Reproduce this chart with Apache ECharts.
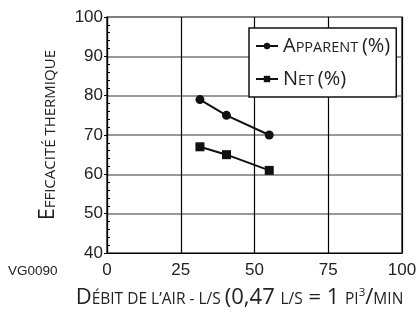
<!DOCTYPE html>
<html><head><meta charset="utf-8">
<script src="https://cdn.jsdelivr.net/npm/echarts@6/dist/echarts.min.js"></script>
<style>html,body{margin:0;padding:0;background:#fff}#c{width:418px;height:312px}</style>
</head><body><div id="c"></div>
<script>
var airflow = [31.5, 40.5, 55];
var apparent = [79, 75, 70];
var netEff = [67, 65, 61];
var xTicks = [0, 25, 50, 75, 100];
var yTicks = [40, 50, 60, 70, 80, 90, 100];
var seriesNames = ['Apparent (%)', 'Net (%)'];

var F = '"Open Sans", sans-serif';
var LF = '"Liberation Sans", Arial, sans-serif';
var chart = echarts.init(document.getElementById('c'));
function pairs(xs, ys){ return xs.map(function(x,i){return [x, ys[i]];}); }
var legendLabels = {
  'Apparent (%)': '{c|A}{s|PPARENT }{c|(%)}',
  'Net (%)': '{c|N}{s|ET }{c|(%)}'
};
function rich(big, small){
  return {
    c: {fontFamily: F, fontSize: big, color: '#222', verticalAlign: 'bottom'},
    s: {fontFamily: F, fontSize: small, color: '#222', verticalAlign: 'bottom', padding: [0,0,1,0]},
    sup: {fontFamily: F, fontSize: small*0.75, color: '#222', verticalAlign: 'top'}
  };
}
chart.setOption({
  animation: false,
  grid: {left: 107, right: 16, top: 17, bottom: 59, show: true, borderColor: '#000', borderWidth: 1.2,
         outerBoundsMode: 'none', containLabel: false},
  legend: {
    orient: 'vertical', left: 249, top: 28,
    width: 139,
    borderColor: '#111', borderWidth: 1.5,
    padding: [8, 6, 8, 6],
    itemGap: 13, itemWidth: 22, itemHeight: 8,
    backgroundColor: '#fff',
    formatter: function(n){ return legendLabels[n]; },
    textStyle: { rich: rich(20, 14.5) },
    data: seriesNames
  },
  xAxis: {
    type: 'value', min: 0, max: 100, interval: 25,
    axisLine: {lineStyle: {color: '#000', width: 1.2}},
    axisTick: {show: false},
    axisLabel: {fontFamily: LF, fontSize: 17, color: '#222', margin: 9,
      formatter: function(v){ return xTicks.indexOf(v) >= 0 ? String(v) : ''; }},
    splitLine: {show: true, lineStyle: {color: '#000', width: 1.2}},
    nameLocation: 'middle', nameGap: 34,
    name: '{c|D}{s|ÉBIT DE L’AIR - L/S }{c|(0,47 }{s|L/S}{c| = 1 }{s|PI}{sup|3}{c|/}{s|MIN}',
    nameTextStyle: { rich: rich(22, 15.5), padding: [0, 30, 0, 0] }
  },
  yAxis: [{
    type: 'value', min: 40, max: 100, interval: 10,
    axisLine: {show: true, lineStyle: {color: '#000', width: 1.2}},
    axisTick: {show: true, length: 3, lineStyle: {color: '#000'}},
    axisLabel: {fontFamily: LF, fontSize: 17, color: '#222', margin: 4,
      formatter: function(v){ return yTicks.indexOf(v) >= 0 ? String(v) : ''; }},
    splitLine: {show: true, showMaxLine: false, lineStyle: {color: '#777', width: 1.5}},
    nameLocation: 'middle', nameGap: 48, nameRotate: 90,
    name: '{c|E}{s|FFICACITÉ THERMIQUE}',
    nameTextStyle: { rich: rich(21, 15) }
  }, {
    type: 'value', min: 40, max: 100, interval: 10, position: 'left',
    axisLine: {show: false},
    axisTick: {show: false, inside: true},
    minorTick: {show: true, splitNumber: 5, length: 3, lineStyle: {color: '#000'}},
    axisLabel: {show: false},
    splitLine: {show: false}
  }],
  graphic: [{
    type: 'text', left: 8, top: 264,
    style: {text: 'VG0090', fontFamily: LF, fontSize: 13.5, fill: '#222'}
  }],
  series: [{
    name: seriesNames[0], type: 'line', data: pairs(airflow, apparent),
    symbol: 'circle', symbolSize: 9,
    lineStyle: {color: '#111', width: 2}, itemStyle: {color: '#111'}
  }, {
    name: seriesNames[1], type: 'line', data: pairs(airflow, netEff),
    symbol: 'rect', symbolSize: 9,
    lineStyle: {color: '#111', width: 2}, itemStyle: {color: '#111'}
  }]
});
</script></body></html>
